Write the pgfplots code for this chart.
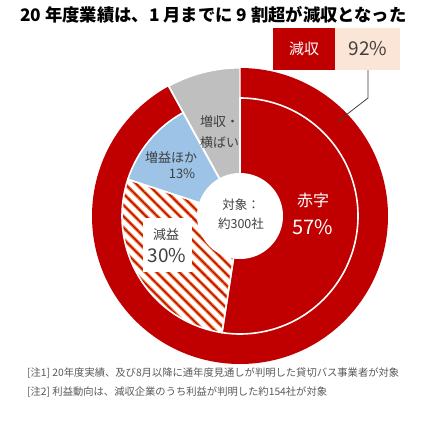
\documentclass[border=0pt]{standalone}
\usepackage{pgfplots}
\pgfplotsset{compat=1.18}
\usepackage{fontspec}
\setmainfont{Noto Sans CJK JP}
\usetikzlibrary{patterns.meta}
\definecolor{cred}{HTML}{C00000}
\definecolor{cgray}{HTML}{BFBFBF}
\definecolor{cblue}{HTML}{9DC3E6}
\definecolor{cpeach}{HTML}{FBE5D6}
\definecolor{corange}{HTML}{EC7A34}
\definecolor{ctext}{HTML}{404040}
\definecolor{cnote}{HTML}{595959}
% data (percent)
\def\Rev{92}   % 減収
\def\Other{8}  % 増収・横ばい
\def\Aka{57}   % 赤字 (of 減収)
\def\Gen{30}   % 減益
\def\Zou{13}   % 増益ほか
\pgfmathsetmacro\aA{90-3.6*\Rev/100*\Aka}
\pgfmathsetmacro\aB{\aA-3.6*\Rev/100*\Gen}
\pgfmathsetmacro\aC{\aB-3.6*\Rev/100*\Zou}
\pgfmathsetmacro\aD{\aC-3.6*\Other}
\def\cx{240}\def\cy{205}
\begin{document}
\begin{tikzpicture}
\useasboundingbox (0,0) rectangle (443pt,421pt);
\begin{axis}[at={(0,0)},anchor=origin,x=1pt,y=1pt,
  xmin=0,xmax=443,ymin=0,ymax=421,hide axis,clip=false]
% outer ring
\fill[cred] (axis cs:\cx,\cy) -- ++(90:148pt) arc[start angle=90,end angle=\aC,radius=148pt] -- cycle;
\filldraw[fill=cgray,draw=white,line width=1.2pt] (axis cs:\cx,\cy) -- ++(\aC:148pt) arc[start angle=\aC,end angle=\aD,radius=148pt] -- cycle;
% inner pie
\filldraw[fill=cred,draw=white,line width=1.6pt] (axis cs:\cx,\cy) -- ++(90:118pt) arc[start angle=90,end angle=\aA,radius=118pt] -- cycle;
\fill[white] (axis cs:\cx,\cy) -- ++(\aA:118pt) arc[start angle=\aA,end angle=\aB,radius=118pt] -- cycle;
\fill[pattern={Lines[angle=-45,distance=8pt,line width=3.3pt]},pattern color=corange] (axis cs:\cx,\cy) -- ++(\aA:118pt) arc[start angle=\aA,end angle=\aB,radius=118pt] -- cycle;
\fill[pattern={Lines[angle=-45,distance=8pt,line width=1.1pt]},pattern color=cred] (axis cs:\cx,\cy) -- ++(\aA:118pt) arc[start angle=\aA,end angle=\aB,radius=118pt] -- cycle;
\draw[white,line width=1.6pt] (axis cs:\cx,\cy) -- ++(\aA:118pt) arc[start angle=\aA,end angle=\aB,radius=118pt] -- cycle;
\filldraw[fill=cblue,draw=white,line width=1.6pt] (axis cs:\cx,\cy) -- ++(\aB:118pt) arc[start angle=\aB,end angle=\aC,radius=118pt] -- cycle;
\draw[white,line width=1.6pt] (axis cs:\cx,\cy) -- ++(\aC:148pt);
\fill[white] (axis cs:\cx,\cy) circle[radius=43pt];
% labels
\node[ctext,align=center,font=\fontsize{12.5}{19}\selectfont] at (axis cs:241,207) {対象：\\約300社};
\node[white,font=\fontsize{16}{16}\selectfont] at (axis cs:313,221) {赤字};
\node[white,font=\fontsize{20}{20}\selectfont] at (axis cs:313,194) {57\%};
\fill[white] (axis cs:143,149) rectangle (axis cs:192,203);
\node[ctext,font=\fontsize{13}{13}\selectfont] at (axis cs:166,186) {減益};
\node[ctext,font=\fontsize{19}{19}\selectfont] at (axis cs:167,165) {30\%};
\node[ctext,font=\fontsize{13}{13}\selectfont] at (axis cs:171,263) {増益ほか};
\node[ctext,font=\fontsize{13}{13}\selectfont] at (axis cs:182,247) {13\%};
\node[ctext,anchor=west,inner sep=0pt,font=\fontsize{13}{13}\selectfont] at (axis cs:200,299) {増収・};
\node[ctext,anchor=west,inner sep=0pt,font=\fontsize{13}{13}\selectfont] at (axis cs:200,278) {横ばい};
% callout
\draw[ctext,line width=0.8pt] (axis cs:337,299) -- (axis cs:368,323) -- (axis cs:368,351);
\fill[cred] (axis cs:273,351) rectangle (axis cs:335,393);
\fill[cpeach] (axis cs:335,351) rectangle (axis cs:400,393);
\node[white,font=\fontsize{15}{15}\selectfont] at (axis cs:304,372) {減収};
\node[ctext,font=\fontsize{19}{19}\selectfont] at (axis cs:368,372) {92\%};
% title and notes
\node[anchor=west,inner sep=0pt,font=\fontsize{17.3}{18}\selectfont\bfseries] at (axis cs:20,406) {20 年度業績は、1 月までに 9 割超が減収となった};
\node[cnote,anchor=west,inner sep=0pt,font=\fontsize{10.3}{10.3}\selectfont] at (axis cs:27,48) {[注1] 20年度実績、及び8月以降に通年度見通しが判明した貸切バス事業者が対象};
\node[cnote,anchor=west,inner sep=0pt,font=\fontsize{10.3}{10.3}\selectfont] at (axis cs:27,29) {[注2] 利益動向は、減収企業のうち利益が判明した約154社が対象};
\end{axis}
\end{tikzpicture}
\end{document}
